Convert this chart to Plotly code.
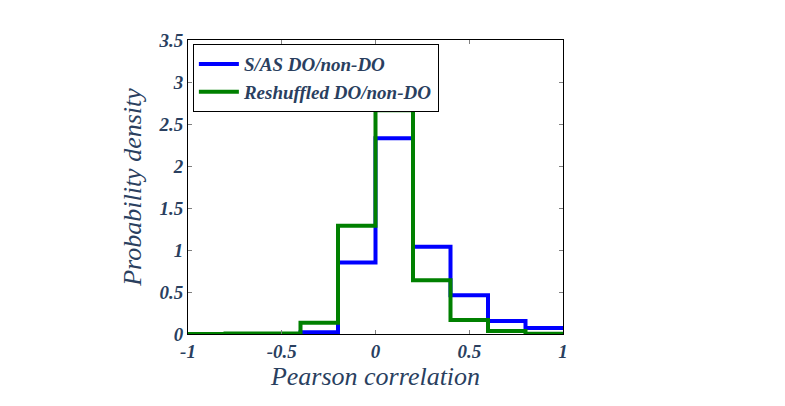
import plotly.graph_objects as go

# bin edges of the histogram (Pearson correlation)
edges = [-1.0, -0.8, -0.6, -0.4, -0.2, 0.0, 0.2, 0.4, 0.6, 0.8, 1.0]

# probability density per bin
sas_density = [0.0, 0.0, 0.0, 0.02, 0.85, 2.33, 1.04, 0.46, 0.155, 0.07]
reshuffled_density = [0.0, 0.005, 0.005, 0.135, 1.29, 2.665, 0.64, 0.166, 0.035, 0.003]

series_names = ["S/AS DO/non-DO", "Reshuffled DO/non-DO"]
xtick_vals = [-1, -0.5, 0, 0.5, 1]
xtick_text = ["-1", "-0.5", "0", "0.5", "1"]
ytick_vals = [0, 0.5, 1, 1.5, 2, 2.5, 3, 3.5]
ytick_text = ["0", "0.5", "1", "1.5", "2", "2.5", "3", "3.5"]

serif = "Times New Roman"


def bi(s):
    return "<b><i>" + s + "</i></b>"


fig = go.Figure()
fig.add_trace(go.Scatter(
    x=edges, y=sas_density + [sas_density[-1]],
    mode="lines", line_shape="hv",
    line=dict(color="#0000ff", width=4),
    name=bi(series_names[0])))
fig.add_trace(go.Scatter(
    x=edges, y=reshuffled_density + [reshuffled_density[-1]],
    mode="lines", line_shape="hv",
    line=dict(color="#008000", width=4),
    name=bi(series_names[1])))

axis_common = dict(
    showgrid=False, zeroline=False,
    showline=True, linecolor="#000000", linewidth=1, mirror="ticks",
    ticks="inside", ticklen=4, tickcolor="#808080",
    tickfont=dict(family=serif, size=19),
)

fig.update_xaxes(range=[-1, 1], tickvals=xtick_vals, ticktext=[bi(t) for t in xtick_text],
                 title=dict(text="<i>Pearson correlation</i>",
                            font=dict(family=serif, size=26),
                            standoff=6),
                 **axis_common)
fig.update_yaxes(range=[0, 3.5], tickvals=ytick_vals, ticktext=[bi(t) for t in ytick_text],
                 title=dict(text="<i>Probability density</i>",
                            font=dict(family=serif, size=26),
                            standoff=9),
                 **axis_common)

fig.update_layout(
    width=785, height=406,
    font=dict(family=serif),
    margin=dict(l=180, r=230, t=32, b=80, autoexpand=False),
    paper_bgcolor="white", plot_bgcolor="white",
    showlegend=True,
    legend=dict(x=0.013, y=0.986, xanchor="left", yanchor="top",
                bgcolor="white", bordercolor="black", borderwidth=1,
                itemwidth=40,
                font=dict(family=serif, size=19),
                tracegroupgap=0),
)

fig.write_html("out.html")
